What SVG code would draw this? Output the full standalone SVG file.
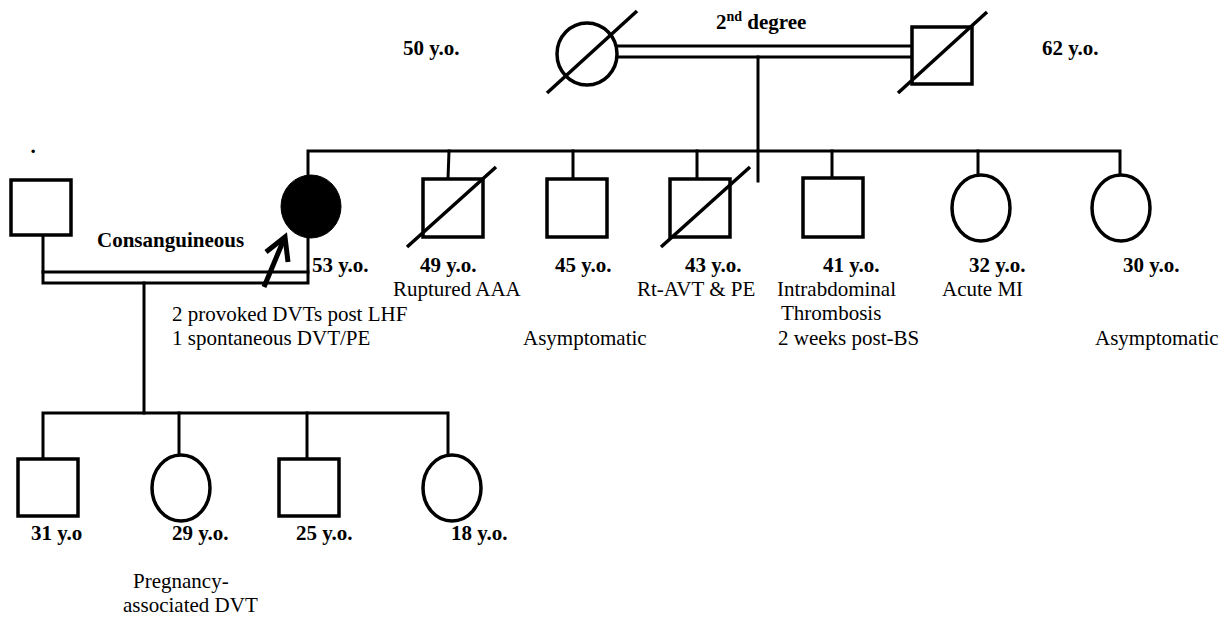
<svg xmlns="http://www.w3.org/2000/svg" width="1227" height="619" viewBox="0 0 1227 619">
<style>
.ln{stroke:#000;stroke-width:3;fill:none;stroke-linecap:square}
.sym{stroke:#000;stroke-width:3.5;fill:#fff}
.sl{stroke:#000;stroke-width:3.5;fill:none}
text{font-family:"Liberation Serif","Times New Roman",serif;font-size:21px;fill:#000}
.b{font-weight:bold}
</style>
<rect width="1227" height="619" fill="#fff"/>
<g id="connectors">
<line class="ln" x1="617" y1="46" x2="911" y2="46"/>
<line class="ln" x1="617" y1="57" x2="911" y2="57"/>
<line class="ln" x1="758" y1="57" x2="758" y2="181"/>
<polyline class="ln" points="308,175 308,151 1120,151 1120,175"/>
<line class="ln" x1="449" y1="151" x2="448" y2="179"/>
<line class="ln" x1="573" y1="151" x2="573" y2="179"/>
<line class="ln" x1="697" y1="151" x2="697" y2="179"/>
<line class="ln" x1="832" y1="151" x2="832" y2="178"/>
<line class="ln" x1="978" y1="151" x2="978" y2="175"/>
<polyline class="ln" points="43,236 43,283 308,283 308,238"/>
<line class="ln" x1="43" y1="272" x2="308" y2="272"/>
<line class="ln" x1="144" y1="283" x2="144" y2="413"/>
<polyline class="ln" points="43,459 43,413 448,413 448,455"/>
<line class="ln" x1="179" y1="413" x2="179" y2="455"/>
<line class="ln" x1="307" y1="413" x2="307" y2="459"/>
<line stroke="#000" stroke-width="5" x1="264" y1="287" x2="284" y2="239"/>
<polyline stroke="#000" stroke-width="5" fill="none" points="266,252 285,237 288,262"/>
</g>
<g id="grandmother">
<ellipse class="sym" cx="587" cy="54" rx="30" ry="31"/>
<line class="sl" x1="547" y1="93" x2="637" y2="11"/>
<text class="b" x="403" y="55">50 y.o.</text>
</g>
<g id="grandfather">
<rect class="sym" x="912" y="27" width="60" height="57"/>
<line class="sl" x1="898" y1="93" x2="987" y2="12"/>
<text class="b" x="1042" y="55">62 y.o.</text>
</g>
<text class="b" x="716" y="29">2<tspan font-size="14" dy="-8">nd</tspan><tspan dy="8"> degree</tspan></text>
<g id="husband">
<text class="b" x="30.5" y="153">.</text>
<rect class="sym" x="11" y="180" width="60" height="55"/>
<text class="b" x="97" y="247">Consanguineous</text>
</g>
<g id="proband">
<ellipse cx="311" cy="206.5" rx="30" ry="31.5" fill="#000" stroke="#000" stroke-width="1"/>
<text class="b" x="312" y="272">53 y.o.</text>
<text x="172" y="321">2 provoked DVTs post LHF</text>
<text x="172" y="345">1 spontaneous DVT/PE</text>
</g>
<g id="sib49">
<rect class="sym" x="423" y="179" width="60" height="58"/>
<line class="sl" x1="407" y1="247" x2="496" y2="167"/>
<text class="b" x="420" y="272">49 y.o.</text>
<text x="393" y="296">Ruptured AAA</text>
</g>
<g id="sib45">
<rect class="sym" x="547" y="179" width="60" height="58"/>
<text class="b" x="555" y="272">45 y.o.</text>
<text x="523" y="345">Asymptomatic</text>
</g>
<g id="sib43">
<rect class="sym" x="670" y="179" width="60" height="58"/>
<line class="sl" x1="661" y1="247" x2="750" y2="167"/>
<text class="b" x="685" y="272">43 y.o.</text>
<text x="637" y="296">Rt-AVT &amp; PE</text>
</g>
<g id="sib41">
<rect class="sym" x="803" y="178" width="60" height="59"/>
<text class="b" x="823" y="272">41 y.o.</text>
<text x="777" y="296">Intrabdominal</text>
<text x="781" y="320">Thrombosis</text>
<text x="778" y="345">2 weeks post-BS</text>
</g>
<g id="sib32">
<ellipse class="sym" cx="981" cy="208" rx="29" ry="33"/>
<text class="b" x="969" y="272">32 y.o.</text>
<text x="942" y="296">Acute MI</text>
</g>
<g id="sib30">
<ellipse class="sym" cx="1121" cy="208" rx="29" ry="33"/>
<text class="b" x="1123" y="272">30 y.o.</text>
<text x="1095" y="345">Asymptomatic</text>
</g>
<g id="child31">
<rect class="sym" x="18" y="459" width="60" height="57"/>
<text class="b" x="31" y="540">31 y.o</text>
</g>
<g id="child29">
<ellipse class="sym" cx="181" cy="488" rx="29" ry="33"/>
<text class="b" x="172" y="540">29 y.o.</text>
<text x="133" y="588">Pregnancy-</text>
<text x="123" y="612">associated DVT</text>
</g>
<g id="child25">
<rect class="sym" x="279" y="459" width="60" height="57"/>
<text class="b" x="296" y="540">25 y.o.</text>
</g>
<g id="child18">
<ellipse class="sym" cx="452" cy="488" rx="29" ry="33"/>
<text class="b" x="451" y="540">18 y.o.</text>
</g>
</svg>
